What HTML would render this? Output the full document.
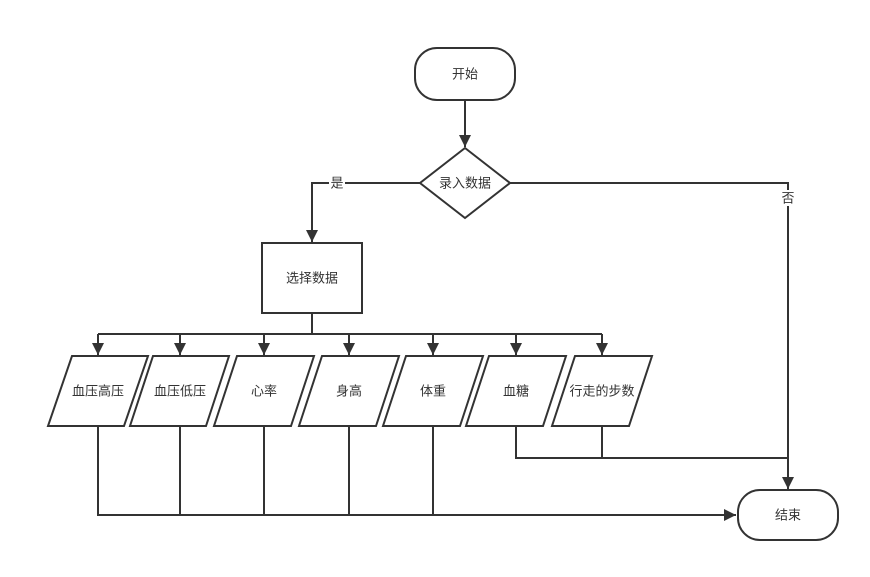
<!DOCTYPE html>
<html><head><meta charset="utf-8"><style>
body{margin:0;background:#fff}
svg text{font-family:"Liberation Sans","Noto Sans CJK SC",sans-serif;font-size:13px;fill:#333;text-anchor:middle;dominant-baseline:central}
</style></head><body>
<svg width="870" height="572" viewBox="0 0 870 572" xmlns="http://www.w3.org/2000/svg">
<defs><marker id="a" markerWidth="10" markerHeight="10" refX="9" refY="5" orient="auto" markerUnits="userSpaceOnUse"><path d="M0,0 L10,5 L0,10 z" fill="#333"/></marker>
<marker id="b" markerWidth="12" markerHeight="12" refX="12" refY="6" orient="auto" markerUnits="userSpaceOnUse"><path d="M0,0 L12,6 L0,12 z" fill="#333"/></marker></defs>
<g stroke="#333" stroke-width="2" fill="none">
<rect x="415" y="48" width="100" height="52" rx="22" fill="#fff"/>
<line x1="465" y1="100" x2="465" y2="147" marker-end="url(#b)"/>
<polygon points="465,148 510,183 465,218 420,183" fill="#fff"/>
<polyline points="420,183 312,183 312,242" marker-end="url(#b)"/>
<polyline points="510,183 788,183 788,489" marker-end="url(#b)"/>
<rect x="262" y="243" width="100" height="70" fill="#fff"/>
<line x1="312" y1="313" x2="312" y2="334"/>
<line x1="98" y1="334" x2="602" y2="334"/>
<line x1="98" y1="334" x2="98" y2="355" marker-end="url(#b)"/>
<line x1="180" y1="334" x2="180" y2="355" marker-end="url(#b)"/>
<line x1="264" y1="334" x2="264" y2="355" marker-end="url(#b)"/>
<line x1="349" y1="334" x2="349" y2="355" marker-end="url(#b)"/>
<line x1="433" y1="334" x2="433" y2="355" marker-end="url(#b)"/>
<line x1="516" y1="334" x2="516" y2="355" marker-end="url(#b)"/>
<line x1="602" y1="334" x2="602" y2="355" marker-end="url(#b)"/>
<polygon points="72,356 148,356 124,426 48,426" fill="#fff"/>
<polygon points="153,356 229,356 206,426 130,426" fill="#fff"/>
<polygon points="237,356 314,356 291,426 214,426" fill="#fff"/>
<polygon points="322,356 399,356 376,426 299,426" fill="#fff"/>
<polygon points="406,356 483,356 460,426 383,426" fill="#fff"/>
<polygon points="489,356 566,356 543,426 466,426" fill="#fff"/>
<polygon points="575,356 652,356 629,426 552,426" fill="#fff"/>
<polyline points="516,426 516,458 788,458"/>
<line x1="602" y1="426" x2="602" y2="458"/>
<polyline points="98,426 98,515 736,515" marker-end="url(#b)"/>
<line x1="180" y1="426" x2="180" y2="515"/>
<line x1="264" y1="426" x2="264" y2="515"/>
<line x1="349" y1="426" x2="349" y2="515"/>
<line x1="433" y1="426" x2="433" y2="515"/>
<rect x="738" y="490" width="100" height="50" rx="22" fill="#fff"/>
</g>
<rect x="329" y="175" width="16" height="16" fill="#fff"/>
<rect x="780" y="190" width="16" height="16" fill="#fff"/>
<text x="465" y="74">开始</text>
<text x="465" y="183">录入数据</text>
<text x="337" y="183">是</text>
<text x="788" y="198">否</text>
<text x="312" y="278">选择数据</text>
<text x="98" y="391">血压高压</text>
<text x="180" y="391">血压低压</text>
<text x="264" y="391">心率</text>
<text x="349" y="391">身高</text>
<text x="433" y="391">体重</text>
<text x="516" y="391">血糖</text>
<text x="602" y="391">行走的步数</text>
<text x="788" y="515">结束</text>
</svg>
</body></html>
